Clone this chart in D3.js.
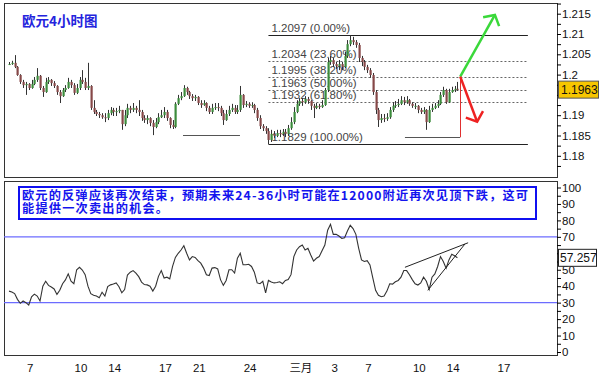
<!DOCTYPE html>
<html>
<head>
<meta charset="utf-8">
<script src="https://cdn.jsdelivr.net/npm/d3@7"></script>
<style>
body { margin: 0; background: #fff; }
svg { display: block; }
</style>
</head>
<body>
<div id="chart"></div>
<script>
// EUR/USD 4-hour bars, open of each bar = close of the one before
var firstOpen = 1.2026;
var closes = [
  1.2026, 1.2029, 1.2019, 1.1999, 1.1982, 1.1974, 1.1977, 1.1967, 1.1977, 1.1987,
  1.1997, 1.1967, 1.1957, 1.1982, 1.1987, 1.1979, 1.1972, 1.1957, 1.1947, 1.1962,
  1.1967, 1.1982, 1.1974, 1.1955, 1.1967, 1.1987, 1.1982, 1.1967, 1.1972, 1.1918,
  1.1908, 1.1903, 1.1900, 1.1895, 1.1893, 1.1905, 1.1913, 1.1908, 1.1910, 1.1913,
  1.1878, 1.1900, 1.1918, 1.1913, 1.1918, 1.1913, 1.1908, 1.1893, 1.1888, 1.1893,
  1.1881, 1.1871, 1.1883, 1.1895, 1.1900, 1.1908, 1.1893, 1.1876, 1.1871, 1.1928,
  1.1942, 1.1947, 1.1967, 1.1957, 1.1947, 1.1942, 1.1945, 1.1930, 1.1925, 1.1930,
  1.1918, 1.1908, 1.1918, 1.1920, 1.1918, 1.1905, 1.1888, 1.1903, 1.1913, 1.1918,
  1.1908, 1.1913, 1.1950, 1.1925, 1.1928, 1.1923, 1.1925, 1.1913, 1.1893, 1.1873,
  1.1868, 1.1861, 1.1839, 1.1854, 1.1849, 1.1856, 1.1854, 1.1859, 1.1854, 1.1868,
  1.1883, 1.1908, 1.1928, 1.1935, 1.1932, 1.1940, 1.1935, 1.1923, 1.1918, 1.1923,
  1.1920, 1.1925, 1.1962, 1.2031, 1.2036, 1.2026, 1.2021, 1.2026, 1.2019, 1.2046,
  1.2075, 1.2085, 1.2080, 1.2073, 1.2041, 1.2031, 1.2019, 1.2011, 1.1999, 1.1957,
  1.1913, 1.1888, 1.1893, 1.1891, 1.1895, 1.1913, 1.1923, 1.1925, 1.1928, 1.1937,
  1.1932, 1.1937, 1.1928, 1.1923, 1.1923, 1.1913, 1.1908, 1.1913, 1.1883, 1.1913,
  1.1918, 1.1923, 1.1928, 1.1950, 1.1962, 1.1932, 1.1957, 1.1962, 1.1965, 1.1963
];
var highs = [
  1.2031, 1.2034, 1.2048, 1.2021, 1.2001, 1.1987, 1.1982, 1.1979, 1.1987, 1.1994,
  1.2016, 1.1999, 1.1972, 1.1992, 1.1994, 1.1989, 1.1984, 1.1974, 1.1962, 1.1967,
  1.1974, 1.1992, 1.1987, 1.1979, 1.1977, 1.1994, 1.2011, 1.1992, 1.2029, 1.1974,
  1.1937, 1.1913, 1.1908, 1.1905, 1.1905, 1.1913, 1.1920, 1.1918, 1.1918, 1.1923,
  1.1913, 1.1913, 1.1928, 1.1923, 1.1930, 1.1923, 1.1937, 1.1913, 1.1900, 1.1900,
  1.1895, 1.1888, 1.1893, 1.1905, 1.1913, 1.1920, 1.1913, 1.1895, 1.1888, 1.1932,
  1.1950, 1.1957, 1.1974, 1.1970, 1.1960, 1.1952, 1.1950, 1.1947, 1.1937, 1.1937,
  1.1932, 1.1923, 1.1928, 1.1930, 1.1930, 1.1923, 1.1913, 1.1913, 1.1923, 1.1928,
  1.1925, 1.1925, 1.1972, 1.1952, 1.1935, 1.1932, 1.1932, 1.1928, 1.1918, 1.1900,
  1.1878, 1.1873, 1.1868, 1.1864, 1.1861, 1.1864, 1.1864, 1.1866, 1.1866, 1.1876,
  1.1895, 1.1920, 1.1937, 1.1942, 1.1942, 1.1947, 1.1945, 1.1937, 1.1928, 1.1930,
  1.1928, 1.1937, 1.1967, 1.2041, 1.2046, 1.2041, 1.2031, 1.2036, 1.2031, 1.2056,
  1.2085, 1.2097, 1.2093, 1.2085, 1.2078, 1.2046, 1.2036, 1.2024, 1.2016, 1.2004,
  1.1962, 1.1918, 1.1903, 1.1903, 1.1905, 1.1920, 1.1932, 1.1935, 1.1940, 1.1947,
  1.1945, 1.1947, 1.1940, 1.1932, 1.1930, 1.1925, 1.1918, 1.1920, 1.1915, 1.1923,
  1.1928, 1.1930, 1.1937, 1.1957, 1.1970, 1.1965, 1.1965, 1.1970, 1.1972, 1.1982
];
var lows = [
  1.2024, 1.2024, 1.2016, 1.1997, 1.1977, 1.1967, 1.1950, 1.1962, 1.1965, 1.1974,
  1.1982, 1.1962, 1.1945, 1.1955, 1.1977, 1.1972, 1.1967, 1.1950, 1.1930, 1.1945,
  1.1957, 1.1965, 1.1967, 1.1950, 1.1952, 1.1962, 1.1977, 1.1962, 1.1962, 1.1913,
  1.1903, 1.1898, 1.1893, 1.1891, 1.1883, 1.1888, 1.1900, 1.1898, 1.1898, 1.1905,
  1.1864, 1.1873, 1.1893, 1.1905, 1.1908, 1.1905, 1.1898, 1.1886, 1.1881, 1.1878,
  1.1873, 1.1851, 1.1868, 1.1878, 1.1893, 1.1893, 1.1886, 1.1868, 1.1866, 1.1868,
  1.1925, 1.1937, 1.1945, 1.1950, 1.1940, 1.1935, 1.1935, 1.1925, 1.1918, 1.1923,
  1.1910, 1.1903, 1.1903, 1.1913, 1.1910, 1.1898, 1.1876, 1.1886, 1.1898, 1.1908,
  1.1903, 1.1903, 1.1908, 1.1918, 1.1920, 1.1918, 1.1918, 1.1905, 1.1886, 1.1866,
  1.1861, 1.1854, 1.1829, 1.1834, 1.1844, 1.1846, 1.1846, 1.1849, 1.1846, 1.1849,
  1.1864, 1.1878, 1.1905, 1.1923, 1.1923, 1.1928, 1.1928, 1.1913, 1.1893, 1.1915,
  1.1915, 1.1918, 1.1923, 1.1957, 1.2024, 1.2019, 1.2014, 1.2011, 1.2011, 1.2016,
  1.2041, 1.2070, 1.2073, 1.2066, 1.2031, 1.2021, 1.2011, 1.2004, 1.1992, 1.1950,
  1.1903, 1.1871, 1.1881, 1.1883, 1.1886, 1.1891, 1.1908, 1.1918, 1.1920, 1.1925,
  1.1925, 1.1928, 1.1923, 1.1918, 1.1915, 1.1905, 1.1903, 1.1903, 1.1864, 1.1881,
  1.1908, 1.1915, 1.1918, 1.1925, 1.1945, 1.1928, 1.1930, 1.1955, 1.1957, 1.1960
];
var rsi = [
  37, 36.5, 35.5, 32, 29.6, 31, 30, 28.6, 33.5, 35.2,
  34, 31, 40, 43, 40.5, 39.5, 38.3, 35, 37.5, 41.5,
  43.8, 47.5, 43, 41.5, 50, 51.5, 49.8, 47, 40, 35.5,
  34.5, 34, 33, 36.3, 34, 39.8, 40.8, 41.3, 42, 39.7,
  36, 38, 46.8, 48.5, 49.5, 48, 45.8, 42.5, 41, 40.8,
  40, 37, 40, 46, 49.5, 45, 45.5, 44.5, 52, 57.5,
  60, 62, 64.6, 60, 56, 58, 57.5, 55.5, 54, 51,
  47, 46.5, 51, 51.3, 50.5, 44, 40.5, 43.5, 50, 50,
  48, 57, 60, 53, 53, 53.3, 52, 48.5, 42, 41.5,
  43, 36, 43.5, 42.5, 42, 42.2, 42.7, 41.5, 43.5, 44,
  47, 58, 62, 64, 65, 62, 63, 59, 55.3, 57,
  58, 61.5, 65, 74, 77.6, 71.5, 71.5, 70.5, 69, 69.5,
  73.5, 77, 75, 71.5, 63, 56, 55, 55.5, 52.9, 45,
  37.5, 34.5, 33.6, 34, 37, 41.5, 41.3, 42.7, 43.5, 45.5,
  49.5, 49.5, 47, 44, 41.5, 40.7, 42, 45.5, 43, 38,
  45.5, 47.5, 52, 58, 55, 51, 56, 59.4, 58.5, 57.257
];
var lastPrice = 1.1963;
var lastRsi = 57.257;

var fibLevels = [1.2097, 1.2034, 1.1995, 1.1963, 1.1932, 1.1829];
var fibNames = ["0.00%", "23.60%", "38.20%", "50.00%", "61.80%", "100.00%"];
var fibFrom = 92, fibTo = 184;   // bar indexes

// labels hidden under the last-value boxes are left out, as in the original
var priceTicks = [1.18, 1.185, 1.19, 1.195, 1.2, 1.205, 1.21, 1.215];
var priceShown = [1.18, 1.185, 1.19, 1.2, 1.205, 1.21, 1.215];
var priceMinor = [1.1775, 1.1825, 1.1875, 1.1925, 1.1975, 1.2025, 1.2075, 1.2125, 1.2175];
var rsiTicks = [0, 10, 20, 30, 40, 50, 60, 70, 80, 90, 100];
var rsiShown = [0, 10, 20, 30, 40, 50, 70, 80, 90, 100];
var rsiMinor = [5, 15, 25, 35, 45, 55, 65, 75, 85, 95];
var rsiBands = [70, 30];

// trading day index of each date label, 6 bars a day
var dayTicks = [1, 4, 6, 9, 11, 14, 17, 19, 21, 24, 26, 29];
var dayLabels = ["7", "10", "14", "17", "21", "24", "三月", "3", "7", "10", "14", "17"];
var barsPerDay = 6;

// hand drawn notes, in bar index / price units
var supports = [[61.7, 81.9, 1.1851], [140.4, 160, 1.1846]];
var pivot = {bar: 160, low: 1.1846, high: 1.1995};
var upTarget = {bar: 172.3, price: 1.2147};
var downTarget = {bar: 166, price: 1.1884};
var rsiWedge = [[[140.4, 51.5], [162.8, 66.4]], [[148.5, 37.5], [161.7, 65.7]]];

var title = "欧元4小时图";
var note = ["欧元的反弹应该再次结束，预期未来24-36小时可能在12000附近再次见顶下跌，这可",
            "能提供一次卖出的机会。"];

var font = "'Liberation Sans', Arial, 'Noto Sans CJK SC', sans-serif";
var cjk = "'Noto Sans CJK SC', sans-serif";

var svg = d3.select("#chart").append("svg")
    .attr("width", 600)
    .attr("height", 376)
    .style("font-family", font);

var pTop = {x0: 4, x1: 557, y0: 3, y1: 177};
var pBot = {x0: 4, x1: 557, y0: 181, y1: 355};

var x = d3.scaleLinear().domain([0, 159]).range([9, 457.4]);
var y = d3.scaleLinear().domain([1.18, 1.21]).range([155.8, 34]);
var yr = d3.scaleLinear().domain([0, 100]).range([352, 187.5]);

// frames
[pTop, pBot].forEach(function(p) {
  svg.append("rect")
    .attr("x", p.x0 + 0.5).attr("y", p.y0 + 0.5)
    .attr("width", p.x1 - p.x0).attr("height", p.y1 - p.y0)
    .attr("fill", "#fff")
    .attr("stroke", "#333");
});

svg.append("text")
  .attr("x", 22).attr("y", 26)
  .style("font-family", cjk)
  .style("font-size", "13.5px")
  .style("font-weight", "bold")
  .attr("fill", "#2424dd")
  .text(title);

// fibonacci levels
var fib = svg.append("g");
fib.selectAll("line")
  .data(fibLevels)
  .enter()
  .append("line")
    .attr("x1", x(fibFrom)).attr("x2", x(fibTo))
    .attr("y1", function(d) { return Math.round(y(d)) + 0.5; })
    .attr("y2", function(d) { return Math.round(y(d)) + 0.5; })
    .attr("stroke", function(d, i) { return (i == 0 || i == fibLevels.length - 1) ? "#222" : "#666"; })
    .attr("stroke-dasharray", function(d, i) { return (i == 0 || i == fibLevels.length - 1) ? null : "2,2"; });
fib.selectAll("text")
  .data(fibLevels)
  .enter()
  .append("text")
    .attr("x", x(fibFrom) + 3)
    .attr("y", function(d) { return y(d) - 3; })
    .style("font-size", "11.5px")
    .attr("fill", "#444")
    .text(function(d, i) { return d.toFixed(4) + " (" + fibNames[i] + ")"; });

// support lines
svg.selectAll("line.sup")
  .data(supports)
  .enter()
  .append("line")
    .attr("class", "sup")
    .attr("x1", function(d) { return x(d[0]); })
    .attr("x2", function(d) { return x(d[1]); })
    .attr("y1", function(d) { return Math.round(y(d[2])) + 0.5; })
    .attr("y2", function(d) { return Math.round(y(d[2])) + 0.5; })
    .attr("stroke", "#555")
    .attr("stroke-width", 1.2);

// candles
var bars = closes.map(function(c, i) {
  return {i: i, open: i ? closes[i - 1] : firstOpen, close: c, high: highs[i], low: lows[i]};
});
var cg = svg.append("g");
cg.selectAll("line")
  .data(bars)
  .enter()
  .append("line")
    .attr("x1", function(d) { return Math.round(x(d.i)) + 0.5; })
    .attr("x2", function(d) { return Math.round(x(d.i)) + 0.5; })
    .attr("y1", function(d) { return y(Math.max(d.high, d.open, d.close)); })
    .attr("y2", function(d) { return y(Math.min(d.low, d.open, d.close)); })
    .attr("stroke", "#333");
cg.selectAll("rect")
  .data(bars)
  .enter()
  .append("rect")
    .attr("x", function(d) { return Math.round(x(d.i)) - 0.5; })
    .attr("y", function(d) { return y(Math.max(d.open, d.close)); })
    .attr("width", 2.2)
    .attr("height", function(d) { return Math.max(1, Math.abs(y(d.open) - y(d.close))); })
    .attr("fill", function(d) { return d.close >= d.open ? "#3c8c3c" : "#864848"; });

// scenario arrows
svg.append("line")
  .attr("x1", Math.round(x(pivot.bar)) + 0.5).attr("x2", Math.round(x(pivot.bar)) + 0.5)
  .attr("y1", y(pivot.low)).attr("y2", y(pivot.high))
  .attr("stroke", "#e03030");

function arrow(t, color) {
  var x0 = x(pivot.bar), y0 = y(pivot.high), x1 = x(t.bar), y1 = y(t.price);
  var a = Math.atan2(y0 - y1, x0 - x1), len = 12, spread = 0.87;
  var head = [[x1 + len * Math.cos(a - spread), y1 + len * Math.sin(a - spread)], [x1, y1],
              [x1 + len * Math.cos(a + spread), y1 + len * Math.sin(a + spread)]];
  svg.append("line")
    .attr("x1", x0).attr("y1", y0).attr("x2", x1).attr("y2", y1)
    .attr("stroke", color).attr("stroke-width", 2.5);
  svg.append("path")
    .attr("d", d3.line()(head))
    .attr("fill", "none")
    .attr("stroke", color).attr("stroke-width", 2.5)
    .attr("stroke-linejoin", "miter");
}
arrow(upTarget, "#3ad83a");
arrow(downTarget, "#ee2222");

// price axis
svg.append("g")
  .attr("transform", "translate(" + pTop.x1 + ",0)")
  .call(d3.axisRight(y).tickValues(priceMinor.concat(priceTicks)).tickSize(4).tickFormat(""))
  .call(function(g) { g.select(".domain").remove(); });
svg.append("g")
  .attr("transform", "translate(" + pTop.x1 + ",0)")
  .call(d3.axisRight(y).tickValues(priceShown).tickSize(0).tickPadding(5)
    .tickFormat(function(d) { return String(+d.toFixed(3)); }))
  .call(function(g) {
    g.select(".domain").remove();
    g.selectAll("text").style("font-size", "11.5px").style("font-family", font).attr("fill", "#111");
  });

svg.append("rect")
  .attr("x", pTop.x1 + 1.5).attr("y", y(lastPrice) - 8.5)
  .attr("width", 40).attr("height", 17)
  .attr("fill", "#f7c600")
  .attr("stroke", "#555");
svg.append("text")
  .attr("x", pTop.x1 + 4).attr("y", y(lastPrice) + 4.5)
  .style("font-size", "12px")
  .attr("fill", "#111")
  .text(lastPrice.toFixed(4));

// RSI panel
svg.selectAll("line.band")
  .data(rsiBands)
  .enter()
  .append("line")
    .attr("class", "band")
    .attr("x1", pBot.x0).attr("x2", pBot.x1)
    .attr("y1", function(d) { return yr(d); })
    .attr("y2", function(d) { return yr(d); })
    .attr("stroke", "#6c6cff")
    .attr("stroke-width", 1.4);

svg.append("rect")
  .attr("x", 19).attr("y", 187)
  .attr("width", 517).attr("height", 32)
  .attr("fill", "#fff")
  .attr("stroke", "#1010f0")
  .attr("stroke-width", 2);
// two wrapped lines of one note
var noteText = svg.append("text")
  .style("font-family", cjk)
  .style("font-size", "12.2px")
  .style("font-weight", "bold")
  .attr("fill", "#1414ee");
noteText.selectAll("tspan")
  .data(note)
  .enter()
  .append("tspan")
    .attr("x", 22)
    .attr("y", function(d, i) { return 200 + i * 13; })
    .style("letter-spacing", function(d, i) { return i ? "1.2px" : null; })
    .attr("textLength", function(d, i) { return i ? null : 506; })
    .attr("lengthAdjust", "spacing")
    .text(function(d) { return d; });

svg.append("path")
  .datum(rsi)
  .attr("d", d3.line().x(function(d, i) { return x(i); }).y(function(d) { return yr(d); }))
  .attr("fill", "none")
  .attr("stroke", "#333")
  .attr("stroke-width", 1.1);

svg.selectAll("line.wedge")
  .data(rsiWedge)
  .enter()
  .append("line")
    .attr("class", "wedge")
    .attr("x1", function(d) { return x(d[0][0]); })
    .attr("y1", function(d) { return yr(d[0][1]); })
    .attr("x2", function(d) { return x(d[1][0]); })
    .attr("y2", function(d) { return yr(d[1][1]); })
    .attr("stroke", "#222");

svg.append("g")
  .attr("transform", "translate(" + pBot.x1 + ",0)")
  .call(d3.axisRight(yr).tickValues(rsiMinor.concat(rsiTicks)).tickSize(4).tickFormat(""))
  .call(function(g) { g.select(".domain").remove(); });
svg.append("g")
  .attr("transform", "translate(" + pBot.x1 + ",0)")
  .call(d3.axisRight(yr).tickValues(rsiShown).tickSize(0).tickPadding(5))
  .call(function(g) {
    g.select(".domain").remove();
    g.selectAll("text").style("font-size", "11.5px").style("font-family", font).attr("fill", "#111");
  });

svg.append("rect")
  .attr("x", pBot.x1 + 1.5).attr("y", yr(lastRsi) - 8.5)
  .attr("width", 38).attr("height", 17)
  .attr("fill", "#fff")
  .attr("stroke", "#222");
svg.append("text")
  .attr("x", pBot.x1 + 3).attr("y", yr(lastRsi) + 4.5)
  .style("font-size", "12px")
  .attr("fill", "#111")
  .text(String(lastRsi));

// date labels
svg.selectAll("text.day")
  .data(dayTicks)
  .enter()
  .append("text")
    .attr("class", "day")
    .attr("x", function(d) { return x(d * barsPerDay + 1.5); })
    .attr("y", 372)
    .attr("text-anchor", "middle")
    .style("font-size", "11.5px")
    .attr("fill", "#111")
    .text(function(d, i) { return dayLabels[i]; });
</script>
</body>
</html>
